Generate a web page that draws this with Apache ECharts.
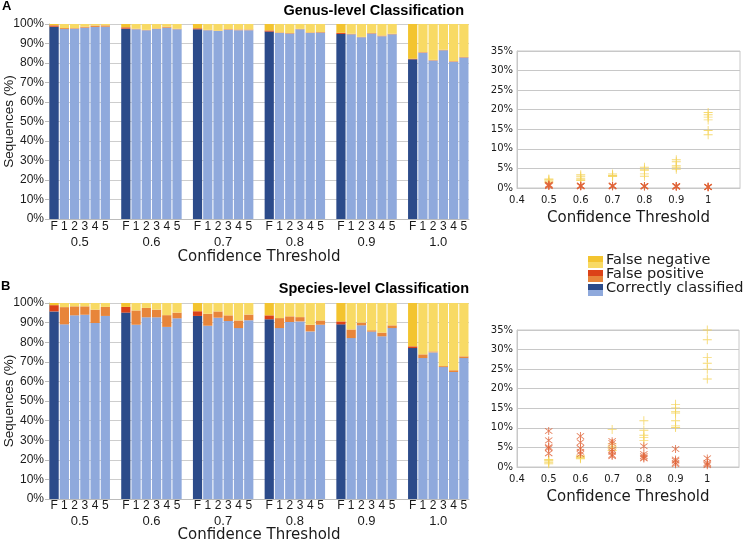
<!DOCTYPE html>
<html>
<head>
<meta charset="utf-8">
<script src="https://cdn.jsdelivr.net/npm/echarts@6/dist/echarts.min.js"></script>
<style>
html,body{margin:0;padding:0;background:#fff;}
#c{width:743px;height:540px;}
</style>
</head>
<body>
<div id="c"></div>
<script>
// ---------- DATA ----------
const groupLabels = ['0.5', '0.6', '0.7', '0.8', '0.9', '1.0'];
const barLabels = ['F', '1', '2', '3', '4', '5'];
const thresholds = [0.5, 0.6, 0.7, 0.8, 0.9, 1];

// Genus level: per threshold group, bars F,1,2,3,4,5 (%)
const genusCorrect = [
  [98.6, 97.4, 97.6, 98.1, 98.5, 98.6],
  [97.6, 97.3, 96.8, 97.4, 98.1, 97.3],
  [97.3, 96.8, 96.4, 97.1, 96.8, 96.8],
  [96.1, 95.4, 95.1, 97.3, 95.4, 95.6],
  [94.9, 94.7, 93.2, 95.1, 93.7, 94.7],
  [81.9, 85.3, 81.3, 86.5, 80.7, 82.8]
];
const genusFP = [
  [0.7, 0.5, 0.3, 0.5, 0.7, 0.7],
  [0.7, 0.3, 0.2, 0.3, 0.5, 0.3],
  [0.5, 0.2, 0.2, 0.3, 0.4, 0.4],
  [0.6, 0.3, 0.3, 0.2, 0.3, 0.3],
  [0.6, 0.3, 0.2, 0.3, 0.4, 0.3],
  [0.3, 0.3, 0.3, 0.3, 0.3, 0.3]
];
const genusFN = [
  [0.7, 2.1, 2.1, 1.4, 0.8, 0.7],
  [1.7, 2.4, 3.0, 2.3, 1.4, 2.4],
  [2.2, 3.0, 3.4, 2.6, 2.8, 2.8],
  [3.3, 4.3, 4.6, 2.5, 4.3, 4.1],
  [4.5, 5.0, 6.6, 4.6, 5.9, 5.0],
  [17.8, 14.4, 18.4, 13.2, 19.0, 16.9]
];

// Species level
const speciesCorrect = [
  [95.7, 89.1, 93.7, 94.0, 89.8, 93.4],
  [95.1, 88.9, 92.7, 92.7, 87.8, 92.2],
  [93.4, 88.4, 92.5, 90.8, 87.2, 91.2],
  [91.7, 87.2, 90.3, 90.6, 85.5, 88.9],
  [89.1, 82.1, 88.6, 85.4, 83.0, 87.2],
  [77.0, 71.9, 74.8, 67.3, 64.8, 71.9]
];
const speciesFP = [
  [3.2, 8.8, 4.6, 4.3, 6.8, 4.6],
  [2.9, 7.3, 4.8, 3.9, 6.0, 2.9],
  [2.4, 6.1, 3.2, 2.9, 3.9, 2.9],
  [2.0, 5.1, 2.9, 2.2, 3.4, 2.2],
  [1.5, 4.4, 1.4, 0.7, 1.9, 1.4],
  [0.9, 1.9, 0.5, 0.5, 0.9, 0.9]
];
const speciesFN = [
  [1.1, 2.1, 1.7, 1.7, 3.4, 2.0],
  [2.0, 3.8, 2.5, 3.4, 6.2, 4.9],
  [4.2, 5.5, 4.3, 6.3, 8.9, 5.9],
  [6.3, 7.7, 6.8, 7.2, 11.1, 8.9],
  [9.4, 13.5, 10.0, 13.9, 15.1, 11.4],
  [22.1, 26.2, 24.7, 32.2, 34.3, 27.2]
];

// Scatter panels: values per threshold (%)
const genusFNScatter = [
  [2.3, 2.1, 1.8, 1.5, 1.3],
  [3.4, 3.0, 2.5, 2.2, 1.9],
  [3.6, 3.3, 3.2, 3.0, 2.9],
  [5.3, 4.8, 4.5, 3.6, 3.0],
  [7.2, 6.7, 5.7, 5.3, 4.8],
  [19.3, 18.7, 18.1, 17.4, 14.7, 13.6]
];
const genusFPScatter = [
  [0.9, 0.8, 0.6, 0.5, 0.7],
  [0.6, 0.5, 0.4, 0.5, 0.6],
  [0.6, 0.5, 0.4, 0.5, 0.6],
  [0.5, 0.4, 0.4, 0.5, 0.5],
  [0.5, 0.4, 0.3, 0.4, 0.5],
  [0.3, 0.2, 0.2, 0.3, 0.3]
];
const speciesFNScatter = [
  [1.9, 1.7, 1.5, 1.1, 0.8],
  [2.9, 2.6, 2.5, 2.3, 2.1],
  [9.6, 5.9, 5.3, 4.8, 4.2],
  [11.8, 9.4, 8.1, 7.5, 6.8],
  [16.0, 15.1, 14.2, 13.8, 11.8, 10.5, 10.1],
  [35.0, 32.5, 28.0, 26.5, 25.0, 22.5]
];
const speciesFPScatter = [
  [9.2, 6.8, 5.1, 4.8, 3.5],
  [7.9, 6.3, 4.8, 3.9, 3.3],
  [6.6, 6.1, 4.4, 3.9, 3.1, 2.8],
  [5.3, 3.3, 2.8, 2.4, 2.2],
  [4.6, 1.9, 1.6, 1.05, 0.7],
  [2.2, 1.05, 0.7, 0.45]
];

// ---------- STYLE ----------
const C = {
  darkBlue: '#2C4B8A', lightBlue: '#8FA9DC',
  red: '#DC4218', orange: '#E8853A',
  darkYellow: '#F3C42F', lightYellow: '#F8DA64',
  grid: '#CDCDCD', text: '#1a1a1a'
};
const SANS = 'Liberation Sans, Arial, sans-serif';
const DEJA = 'DejaVu Sans, sans-serif';

// ---------- BUILD ----------
function slots(groups) {
  const out = [];
  groups.forEach((g, gi) => {
    g.forEach(v => out.push(v));
    if (gi < groups.length - 1) out.push('-');
  });
  return out;
}
const slotLabels = slots(groupLabels.map(() => barLabels)).map(v => v === '-' ? '' : v);
const groupAxisData = [];
for (let j = 0; j <= 82; j++) groupAxisData.push('');
groupLabels.forEach((g, i) => { groupAxisData[14 * i + 6] = g; });

function pts(arr) {
  const out = [];
  arr.forEach((vals, i) => vals.forEach(v => out.push([thresholds[i], v])));
  return out;
}

const PLUS = 'path://M4.5,0 V4.5 H0 V5.5 H4.5 V10 H5.5 V5.5 H10 V4.5 H5.5 V0 Z';
const STAR = 'path://M4.6,0.4 V9.6 H5.4 V0.4 Z M1.45,2.05 L7.95,8.55 L8.55,7.95 L2.05,1.45 Z M2.05,8.55 L8.55,2.05 L7.95,1.45 L1.45,7.95 Z';

function barXAxis(grid, margin) {
  return {
    type: 'category', gridIndex: grid, position: 'bottom', data: slotLabels,
    axisLine: { lineStyle: { color: '#BBBBBB' } },
    axisTick: { length: 4, interval: (i) => (i % 7 === 0 || i % 7 === 6), lineStyle: { color: '#BBBBBB' } },
    axisLabel: { interval: 0, margin: margin, fontSize: 12, fontFamily: SANS, color: C.text },
    splitLine: { show: false }
  };
}
function groupXAxis(grid, margin, nameGap) {
  return {
    type: 'category', gridIndex: grid, position: 'bottom', boundaryGap: false, data: groupAxisData,
    axisLine: { show: false }, axisTick: { show: false }, splitLine: { show: false },
    axisLabel: { interval: 0, margin: margin, fontSize: 13, fontFamily: SANS, color: C.text },
    name: 'Confidence Threshold', nameLocation: 'middle', nameGap: nameGap, nameMoveOverlap: false,
    nameTextStyle: { fontFamily: DEJA, fontSize: 15, color: C.text }
  };
}
function barYAxis(grid) {
  return {
    type: 'value', gridIndex: grid, min: 0, max: 100, interval: 10,
    axisLine: { show: true, lineStyle: { color: '#BBBBBB' } },
    axisTick: { show: true, length: 4, lineStyle: { color: '#BBBBBB' } },
    axisLabel: { formatter: '{value}%', fontSize: 12, fontFamily: SANS, color: C.text, margin: 5 },
    splitLine: { lineStyle: { color: C.grid } },
    name: 'Sequences (%)', nameLocation: 'middle', nameGap: 33, nameMoveOverlap: false,
    nameTextStyle: { fontFamily: SANS, fontSize: 13.5, color: C.text }
  };
}
function scatXAxis(grid, nameGap) {
  return {
    type: 'value', gridIndex: grid, min: 0.4, max: 1.1, interval: 0.1,
    axisLine: { lineStyle: { color: '#C8C8C8' } }, axisTick: { show: false },
    axisLabel: { fontSize: 10, fontFamily: DEJA, color: C.text, margin: 7,
      formatter: v => (v > 1.05 ? '' : String(Math.round(v * 10) / 10)) },
    splitLine: { show: false },
    name: 'Confidence Threshold', nameLocation: 'middle', nameGap: nameGap, nameMoveOverlap: false,
    nameTextStyle: { fontFamily: DEJA, fontSize: 15, color: C.text }
  };
}
function scatYAxis(grid) {
  return {
    type: 'value', gridIndex: grid, min: 0, max: 35, interval: 5,
    axisLine: { show: true, lineStyle: { color: '#C8C8C8' } }, axisTick: { show: false },
    axisLabel: { formatter: '{value}%', fontSize: 10, fontFamily: DEJA, color: C.text, margin: 4 },
    splitLine: { lineStyle: { color: '#C8C8C8' } }
  };
}
function barSeries(xi, yi, stack, corr, fp, fn) {
  const col = (d, l) => (p => (p.dataIndex % 7 === 0 ? d : l));
  const base = { type: 'bar', xAxisIndex: xi, yAxisIndex: yi, stack: stack, barCategoryGap: '10%' };
  return [
    Object.assign({}, base, { name: 'Correctly classified', data: slots(corr), itemStyle: { color: col(C.darkBlue, C.lightBlue) } }),
    Object.assign({}, base, { name: 'False positive', data: slots(fp), itemStyle: { color: col(C.red, C.orange) } }),
    Object.assign({}, base, { name: 'False negative', data: slots(fn), itemStyle: { color: col(C.darkYellow, C.lightYellow) } })
  ];
}
function scatSeries(xi, yi, fn, fp) {
  return [
    { type: 'scatter', xAxisIndex: xi, yAxisIndex: yi, data: pts(fn), symbol: PLUS, symbolSize: 9,
      itemStyle: { color: '#F4D35A', opacity: 0.85 } },
    { type: 'scatter', xAxisIndex: xi, yAxisIndex: yi, data: pts(fp), symbol: STAR, symbolSize: 8,
      itemStyle: { color: '#E0653A', opacity: 0.85 } }
  ];
}

const legendRows = [
  { name: 'False negative', top: C.darkYellow, bottom: C.lightYellow },
  { name: 'False positive', top: C.red, bottom: C.orange },
  { name: 'Correctly classified', top: C.darkBlue, bottom: C.lightBlue }
];
const legendGraphics = [];
legendRows.forEach((r, i) => {
  const cy = 262 + i * 14;
  legendGraphics.push({ type: 'rect', left: 588, top: cy - 6, shape: { width: 15, height: 6 }, style: { fill: r.top } });
  legendGraphics.push({ type: 'rect', left: 588, top: cy, shape: { width: 15, height: 6 }, style: { fill: r.bottom } });
  legendGraphics.push({ type: 'text', left: 606, top: cy - 9, style: { text: r.name, font: '14.5px DejaVu Sans', fill: C.text } });
});

const gridBase = { containLabel: false, outerBoundsMode: 'none' };
const chart = echarts.init(document.getElementById('c'), null, { renderer: 'canvas' });
chart.setOption({
  animation: false,
  backgroundColor: '#fff',
  title: [
    { text: 'A', left: 2, top: 0, padding: 0, textStyle: { fontFamily: SANS, fontSize: 13, fontWeight: 'bold', color: '#000' } },
    { text: 'Genus-level Classification', right: 279, top: 3, padding: 0, textStyle: { fontFamily: SANS, fontSize: 14.5, fontWeight: 'bold', color: '#000' } },
    { text: 'B', left: 1, top: 280, padding: 0, textStyle: { fontFamily: SANS, fontSize: 13, fontWeight: 'bold', color: '#000' } },
    { text: 'Species-level Classification', right: 274, top: 281, padding: 0, textStyle: { fontFamily: SANS, fontSize: 14.5, fontWeight: 'bold', color: '#000' } }
  ],
  grid: [
    Object.assign({ left: 49, top: 24, width: 420, height: 195 }, gridBase),
    Object.assign({ left: 517, top: 51, width: 223, height: 137, show: true, borderColor: '#C8C8C8', borderWidth: 1 }, gridBase),
    Object.assign({ left: 49, top: 303, width: 420, height: 196 }, gridBase),
    Object.assign({ left: 517, top: 330, width: 222, height: 137, show: true, borderColor: '#C8C8C8', borderWidth: 1 }, gridBase)
  ],
  xAxis: [barXAxis(0, 2), groupXAxis(0, 17, 31), scatXAxis(1, 23), barXAxis(2, 1), groupXAxis(2, 16, 28.5), scatXAxis(3, 22.5)],
  yAxis: [barYAxis(0), scatYAxis(1), barYAxis(2), scatYAxis(3)],
  series: [].concat(
    barSeries(0, 0, 'genus', genusCorrect, genusFP, genusFN),
    scatSeries(2, 1, genusFNScatter, genusFPScatter),
    barSeries(3, 2, 'species', speciesCorrect, speciesFP, speciesFN),
    scatSeries(5, 3, speciesFNScatter, speciesFPScatter)
  ),
  graphic: legendGraphics
});
</script>
</body>
</html>
